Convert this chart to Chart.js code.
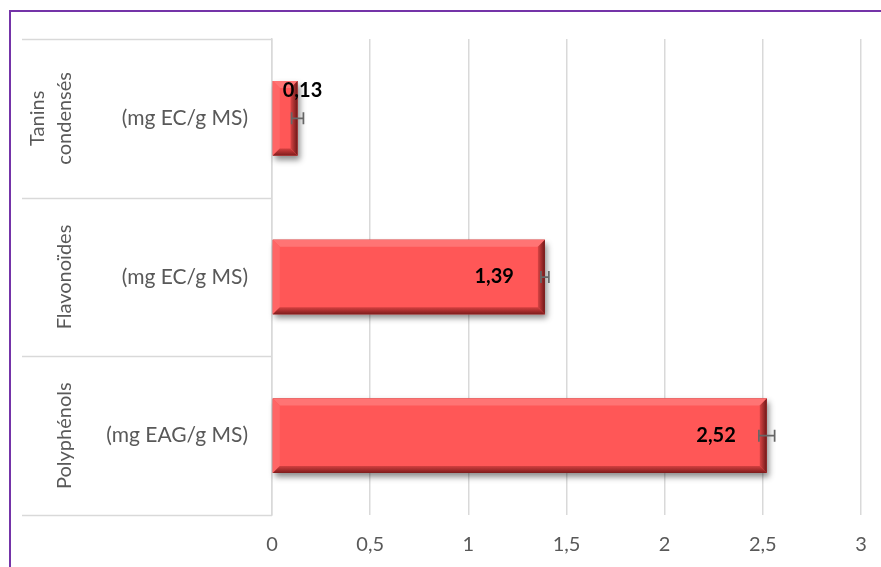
<!DOCTYPE html>
<html><head><meta charset="utf-8">
<script src="https://cdn.jsdelivr.net/npm/chart.js@4"></script>
<style>
html,body{margin:0;padding:0;background:#fff;}
#wrap{position:relative;width:881px;height:567px;overflow:hidden;background:#fff;}
#frame{position:absolute;left:9px;top:10px;width:900px;height:600px;border-left:2px solid #7434a8;border-top:2px solid #7434a8;box-sizing:border-box;}
canvas{position:absolute;left:0;top:0;}
</style></head><body>
<div id="wrap"><div id="frame"></div><canvas id="c" width="881" height="567"></canvas></div>
<script>
// Teneurs en composés phénoliques
const categories = ['Tanins condensés', 'Flavonoïdes', 'Polyphénols'];
const groupLines = [['Tanins', 'condensés'], ['Flavonoïdes'], ['Polyphénols']];
const units = ['(mg EC/g MS)', '(mg EC/g MS)', '(mg EAG/g MS)'];
const values = [0.13, 1.39, 2.52];
const errors = [0.03, 0.02, 0.04];
const valueLabels = ['0,13', '1,39', '2,52'];
const xTicks = [0, 0.5, 1, 1.5, 2, 2.5, 3];

const FONT = 'Lato, "Open Sans", sans-serif';
const GREY = '#595959';
const LINE = '#d9d9d9';
const LEFT_EDGE = 22;

function barBox(el) {
  const p = el.getProps(['x', 'y', 'base', 'height'], true);
  return { l: Math.min(p.base, p.x), r: Math.max(p.base, p.x), t: p.y - p.height / 2, b: p.y + p.height / 2, y: p.y };
}

function poly(ctx, pts, fill) {
  ctx.beginPath();
  ctx.moveTo(pts[0][0], pts[0][1]);
  for (let i = 1; i < pts.length; i++) ctx.lineTo(pts[i][0], pts[i][1]);
  ctx.closePath();
  ctx.fillStyle = fill;
  ctx.fill();
}

const bevelBars = {
  id: 'bevelBars',
  beforeDatasetsDraw(chart) {
    const ctx = chart.ctx;
    chart.getDatasetMeta(0).data.forEach(el => {
      const q = barBox(el);
      ctx.save();
      ctx.shadowColor = 'rgba(0,0,0,0.45)';
      ctx.shadowBlur = 6;
      ctx.shadowOffsetX = 2;
      ctx.shadowOffsetY = 4;
      ctx.fillStyle = '#8a2a2a';
      ctx.fillRect(q.l, q.t, q.r - q.l, q.b - q.t);
      ctx.restore();
    });
  },
  afterDatasetsDraw(chart) {
    const ctx = chart.ctx;
    const xs = chart.scales.x;
    chart.getDatasetMeta(0).data.forEach((el, i) => {
      const q = barBox(el);
      const d = 7;
      ctx.save();
      // top and left highlights
      poly(ctx, [[q.l, q.t], [q.r, q.t], [q.r - d, q.t + d], [q.l + d, q.t + d]], '#ff7474');
      poly(ctx, [[q.l, q.t], [q.l + d, q.t + d], [q.l + d, q.b - d], [q.l, q.b]], '#ff6666');
      // right shade
      let g = ctx.createLinearGradient(q.r - d, 0, q.r, 0);
      g.addColorStop(0, '#d84444');
      g.addColorStop(1, '#6e1818');
      poly(ctx, [[q.r, q.t], [q.r, q.b], [q.r - d, q.b - d], [q.r - d, q.t + d]], g);
      // bottom shade
      g = ctx.createLinearGradient(0, q.b - d, 0, q.b);
      g.addColorStop(0, '#d44040');
      g.addColorStop(1, '#7e1c1c');
      poly(ctx, [[q.l, q.b], [q.r, q.b], [q.r - d, q.b - d], [q.l + d, q.b - d]], g);
      ctx.restore();

      // error bar
      const x0 = xs.getPixelForValue(values[i] - errors[i]);
      const x1 = xs.getPixelForValue(values[i] + errors[i]);
      ctx.save();
      ctx.strokeStyle = '#666666';
      ctx.lineWidth = 1.75;
      ctx.beginPath();
      ctx.moveTo(x0, q.y); ctx.lineTo(x1, q.y);
      ctx.moveTo(x0, q.y - 6); ctx.lineTo(x0, q.y + 6);
      ctx.moveTo(x1, q.y - 6); ctx.lineTo(x1, q.y + 6);
      ctx.stroke();
      ctx.restore();

      // value label
      ctx.save();
      ctx.font = 'bold 20px ' + FONT;
      ctx.fillStyle = '#000';
      ctx.textBaseline = 'middle';
      const w = ctx.measureText(valueLabels[i]).width;
      if (q.r - q.l > w + 40) {
        ctx.textAlign = 'right';
        ctx.fillText(valueLabels[i], q.r - 31, q.y);
      } else {
        ctx.textAlign = 'left';
        ctx.fillText(valueLabels[i], q.l + 10, q.t + 10);
      }
      ctx.restore();
    });
  }
};

const groupAxis = {
  id: 'groupAxis',
  afterDraw(chart) {
    const ctx = chart.ctx;
    const ys = chart.scales.y;
    const area = chart.chartArea;
    const step = ys.getPixelForValue(1) - ys.getPixelForValue(0);
    ctx.save();
    ctx.strokeStyle = LINE;
    ctx.lineWidth = 1.5;
    for (let i = 0; i <= categories.length; i++) {
      const yy = Math.round(ys.getPixelForValue(0) - step / 2 + i * step) + 0.5;
      ctx.beginPath();
      ctx.moveTo(LEFT_EDGE, yy);
      ctx.lineTo(area.left, yy);
      ctx.stroke();
    }
    ctx.font = '20px ' + FONT;
    ctx.fillStyle = GREY;
    ctx.textAlign = 'center';
    ctx.textBaseline = 'middle';
    categories.forEach((c, i) => {
      const cy = ys.getPixelForValue(i);
      const lines = groupLines[i];
      lines.forEach((ln, k) => {
        const cx = 65 - (lines.length - 1 - k) * 27;
        ctx.save();
        ctx.translate(cx, cy);
        ctx.rotate(-Math.PI / 2);
        ctx.fillText(ln, 0, 0);
        ctx.restore();
      });
    });
    ctx.restore();
  }
};

new Chart(document.getElementById('c'), {
  type: 'bar',
  data: {
    labels: categories,
    datasets: [{
      data: values,
      backgroundColor: '#ff5757',
      borderWidth: 0,
      categoryPercentage: 0.94,
      barPercentage: 0.5
    }]
  },
  options: {
    indexAxis: 'y',
    responsive: false,
    animation: false,
    devicePixelRatio: 1,
    layout: { padding: { left: LEFT_EDGE, top: 39, right: 20, bottom: 0 } },
    plugins: { legend: { display: false }, tooltip: { enabled: false } },
    scales: {
      x: {
        min: 0, max: 3,
        afterBuildTicks(scale) { scale.ticks = xTicks.map(v => ({ value: v })); },
        afterFit(scale) {
          scale.height = 52;
          scale.paddingLeft = 0;
          scale.paddingRight = 0;
        },
        grid: { color: LINE, lineWidth: 1.5, drawTicks: false },
        border: { display: false },
        ticks: {
          padding: 18,
          color: GREY,
          font: { family: FONT, size: 20 },
          callback: v => String(v).replace('.', ',')
        }
      },
      y: {
        afterFit(scale) { scale.width = 250; },
        grid: { display: false },
        border: { display: true, color: LINE, width: 1.5 },
        ticks: {
          padding: 16,
          color: GREY,
          font: { family: FONT, size: 21 },
          callback: (v, i) => units[i]
        }
      }
    }
  },
  plugins: [bevelBars, groupAxis]
});
</script>
</body></html>
